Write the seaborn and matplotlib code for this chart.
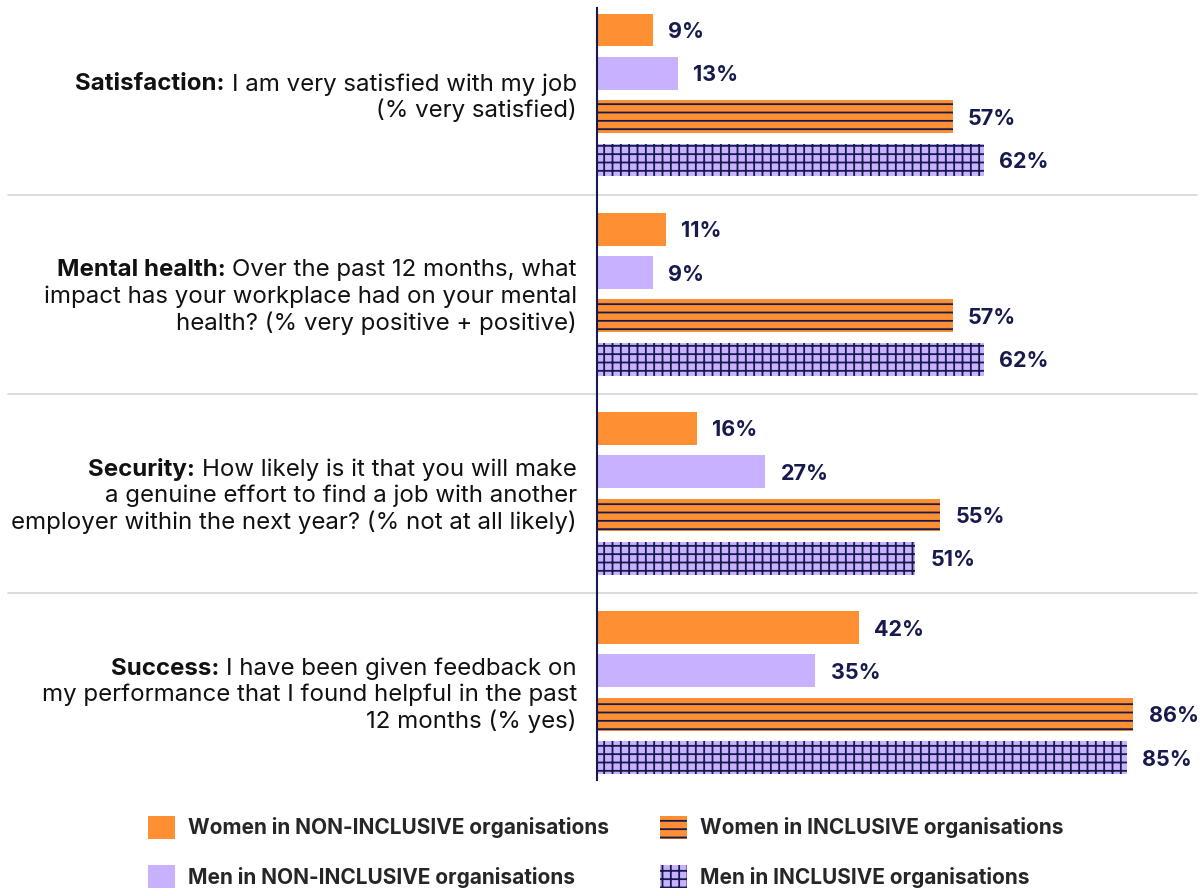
import matplotlib
matplotlib.use("Agg")
import numpy as np
import pandas as pd
import seaborn as sns
import matplotlib.pyplot as plt
import matplotlib.transforms as mtransforms
from matplotlib.patches import Patch

# ---------------- data ----------------
categories = ["Satisfaction", "Mental health", "Security", "Success"]
groups = [
    "Women in NON-INCLUSIVE organisations",
    "Men in NON-INCLUSIVE organisations",
    "Women in INCLUSIVE organisations",
    "Men in INCLUSIVE organisations",
]
women_non = [9, 11, 16, 42]
men_non = [13, 9, 27, 35]
women_inc = [57, 57, 55, 86]
men_inc = [62, 62, 51, 85]

label_bold = ["Satisfaction:", "Mental health:", "Security:", "Success:"]
label_lines = [
    ["I am very satisfied with my job", "(% very satisfied)"],
    ["Over the past 12 months, what",
     "impact has your workplace had on your mental",
     "health? (% very positive + positive)"],
    ["How likely is it that you will make",
     "a genuine effort to find a job with another",
     "employer within the next year? (% not at all likely)"],
    ["I have been given feedback on",
     "my performance that I found helpful in the past",
     "12 months (% yes)"],
]

series = [women_non, men_non, women_inc, men_inc]
df = pd.DataFrame({
    "category": categories * 4,
    "group": [g for g in groups for _ in categories],
    "value": [v for s in series for v in s],
})

# ---------------- style ----------------
ORANGE = "#FF8F33"
LAVENDER = "#C8B2FF"
NAVY = "#161A4D"
palette = [ORANGE, LAVENDER, ORANGE, LAVENDER]
hatches = [None, None, "--", "++"]

sns.set_theme(style="white")
plt.rcParams["font.family"] = ["Inter", "DejaVu Sans"]
plt.rcParams["hatch.linewidth"] = 1.3

DPI = 100
fig = plt.figure(figsize=(12.03, 8.9), dpi=DPI)
W, H = 1203, 890
ax = fig.add_axes([597 / W, 1 - 780 / H, 600 / W, 772 / H])

sns.barplot(data=df, x="value", y="category", hue="group",
            order=categories, hue_order=groups, orient="h",
            palette=palette, saturation=1, width=0.87, gap=0.24,
            linewidth=0, legend=False, ax=ax)

for cont, h, vals in zip(ax.containers, hatches, series):
    for p in cont.patches:
        if h:
            p.set_hatch(h)
            p.set_edgecolor(NAVY)
            p.set_linewidth(0)
    txts = ax.bar_label(cont, labels=[f"{v}%" for v in vals], padding=11,
                        fontsize=15.5, fontweight="bold", color=NAVY)
    for t in txts:
        t.set_va("center_baseline")

ax.set_xlim(0, 96.2)
ax.set_ylim(3.439, -0.4367)
ax.set_xticks([])
ax.set_yticks([])
ax.set_xlabel("")
ax.set_ylabel("")
for s in ["top", "right", "bottom"]:
    ax.spines[s].set_visible(False)
ax.spines["left"].set_color(NAVY)
ax.spines["left"].set_linewidth(1.5)

# separators
for yv in [0.5, 1.5, 2.5]:
    ax.axhline(yv, xmin=(8 - 597) / 600, xmax=1.0, color="#D6D6D6",
               lw=1.2, clip_on=False, zorder=0)

# category labels
renderer = fig.canvas.get_renderer()
trans = ax.get_yaxis_transform()
FS = 17.3
LINE_PX = 26.3
x_lab = -20 / 600
for i, (bold, lines) in enumerate(zip(label_bold, label_lines)):
    n = len(lines)
    for j, line in enumerate(lines):
        yoff = -(j - (n - 1) / 2) * LINE_PX * 72 / DPI
        tr = mtransforms.offset_copy(trans, fig=fig, x=0, y=yoff, units="points")
        t = ax.text(x_lab, i, line, transform=tr, ha="right",
                    va="center_baseline", fontsize=FS, color="#111111")
        if j == 0:
            w = t.get_window_extent(renderer=renderer).width
            tr2 = mtransforms.offset_copy(trans, fig=fig,
                                          x=-(w + 7) * 72 / DPI, y=yoff,
                                          units="points")
            ax.text(x_lab, i, bold, transform=tr2, ha="right",
                    va="center_baseline", fontsize=FS, fontweight="bold",
                    color="#111111")

# legend
LFS = 15
handles = [Patch(facecolor=c, hatch=h, edgecolor=NAVY if h else c, linewidth=0)
           for c, h in zip(palette, hatches)]
fig.legend(handles, groups, loc="upper left",
           bbox_to_anchor=(148 / W, 1 - 816 / H), ncol=2, frameon=False,
           borderpad=0, borderaxespad=0, handlelength=1.3, handleheight=1.3,
           handletextpad=0.62, columnspacing=2.45, labelspacing=1.28,
           prop={"weight": "bold", "size": LFS})

fig.savefig("out.png", dpi=DPI)
